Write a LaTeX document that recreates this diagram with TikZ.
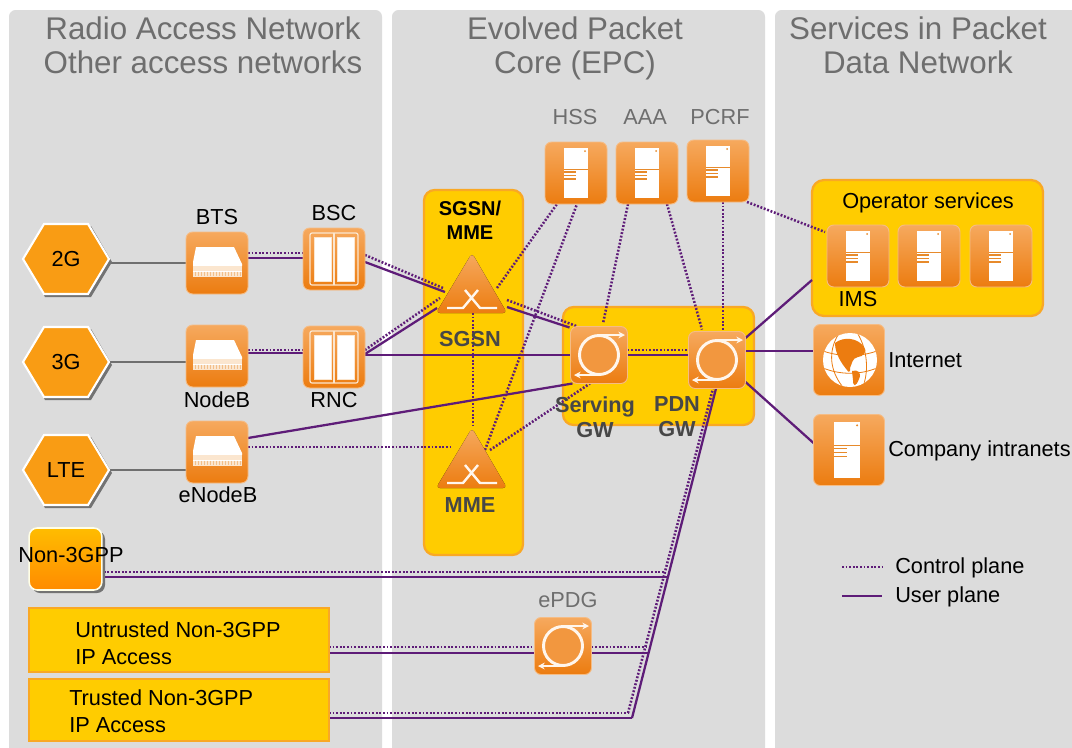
\documentclass[tikz,border=0pt]{standalone}
\usepackage{fontspec}
\setmainfont{Liberation Sans}
\usetikzlibrary{calc,arrows.meta}
\pgfdeclarelayer{panels}\pgfdeclarelayer{edges}
\pgfsetlayers{panels,edges,main}
\definecolor{panel}{HTML}{DCDCDC}
\definecolor{amber}{HTML}{FFCC00}
\definecolor{amberedge}{HTML}{F9A825}
\definecolor{plane}{HTML}{5E1C78}
\definecolor{boxtop}{HTML}{F6A95E}
\definecolor{boxbot}{HTML}{EC7C10}
\definecolor{boxedge}{HTML}{F5BC85}
\definecolor{hexfill}{HTML}{F99C14}
\definecolor{headgrey}{HTML}{6E6E6E}
\definecolor{rule}{HTML}{6F6F6F}
\definecolor{cream}{HTML}{FBE6CF}
\definecolor{strip}{HTML}{E78A2B}
\tikzset{
 x=.75pt,y=-.75pt,
 txt/.style={inner sep=0pt,font=\fontsize{16.3}{20}\selectfont,text=black,align=center},
 lefttxt/.style={txt,anchor=west,align=left},
 head/.style={inner sep=0pt,font=\fontsize{23.5}{25.5}\selectfont,text=headgrey,align=center},
 greytxt/.style={txt,text=headgrey},
 boldtxt/.style={txt,font=\fontsize{16.3}{18.5}\selectfont\bfseries,text=black!72},
 iconbox/.style={draw=boxedge,line width=.7pt,rounded corners=5pt,top color=boxtop,bottom color=boxbot,minimum size=#1*.75pt,inner sep=0pt,outer sep=0pt},
 amberbox/.style={draw=amberedge,line width=1.7pt,fill=amber,inner sep=0pt,outer sep=0pt},
 hexlabel/.style={txt,minimum width=64.5pt,minimum height=52.5pt},
 ctrl/.style={draw=plane,line width=1.9pt,dash pattern=on 1.4pt off 1.3pt},
 user/.style={draw=plane,line width=1.7pt},
 access/.style={draw=rule,line width=1.4pt},
 icon/.style={fill=white,draw=none},
}
\newcommand\hexagon[4]{% name x y text
 \begin{scope}[shift={(#2,#3)}]
 \fill[black!55] (-41,3)--(-21,-33)--(25,-33)--(46,3)--(25,38)--(-21,38)--cycle;
 \filldraw[fill=hexfill,draw=white,line width=1.6pt] (-43,0)--(-22,-35)--(22,-35)--(43,0)--(22,35)--(-22,35)--cycle;
 \end{scope}
 \node[hexlabel] (#1) at (#2,#3) {#4};}
\newcommand\serverglyph{%
 \fill[icon] (-12,-25) rectangle (12,25);
 \draw[strip,line width=.7pt] (-12,-4)--(12,-4);
 \draw[strip,line width=.9pt] (-12,-1)--(0,-1) (-12,2.5)--(0,2.5) (-12,6)--(0,6);
 \fill[strip] (9,-22) circle (1);}
\newcommand\serverbox[3]{%
 \node[iconbox=62] (#1) at (#2,#3) {};
 \begin{scope}[shift={(#2,#3)}]\serverglyph\end{scope}}
\newcommand\bladebox[3]{%
 \node[iconbox=62] (#1) at (#2,#3) {};
 \begin{scope}[shift={(#2,#3)}]
 \fill[white] (-21,-16)--(17,-16)--(25,1)--(25,3)--(-24,3)--(-24,-1)--cycle;
 \fill[cream] (-24,3) rectangle (25,14);
 \draw[white,line width=.5pt] (-24,8) -- (25,8);
 \foreach \h in {-22,-19,...,23} \draw[strip!55,line width=.25pt] (\h,8.5)--(\h,13);
 \end{scope}}
\newcommand\rackbox[3]{%
 \node[iconbox=62] (#1) at (#2,#3) {};
 \begin{scope}[shift={(#2,#3)}]
 \draw[cream,line width=.9pt,rounded corners=1.5pt] (-24,-26) rectangle (24,26);
 \draw[cream,line width=.9pt] (0,-26)--(0,26);
 \filldraw[fill=white,draw=cream,line width=.6pt] (-20,-22) rectangle (-3,22) (3,-22) rectangle (20,22);
 \end{scope}}
\newcommand\gwglyph{%
 \fill[boxtop!60!boxbot] (0,0) circle (19);
 \draw[white!93!orange,line width=2.2pt] (0,0) circle (19.5);
 \draw[white!93!orange,line width=1.5pt,-{Stealth[length=5pt,width=5pt]}] (0,-20)--(26,-20);
 \draw[white!93!orange,line width=1.5pt,-{Stealth[length=5pt,width=5pt]}] (0,20)--(-25,20);}
\newcommand\gwbox[3]{%
 \node[iconbox=57] (#1) at (#2,#3) {};
 \begin{scope}[shift={(#2,#3)}]\gwglyph\end{scope}}
\newcommand\routerglyph[3]{% name apexx apexy
 \filldraw[draw=none,top color=boxtop,bottom color=boxbot,rounded corners=3pt] (#2,#3)--(#2+35,#3+60)--(#2-36,#3+60)--cycle;
 \node[inner sep=0pt,minimum width=52.5pt,minimum height=45pt] (#1) at (#2,#3+30) {};
 \begin{scope}[shift={(#2,#3)}]
 \draw[white!93!orange,line width=1.8pt] (-25,55)--(-9,55)--(6,37) (-7,37)--(8,55)--(25,55);
 \end{scope}}
\begin{document}
\begin{tikzpicture}
\useasboundingbox (0,0) rectangle (1072,747);
\clip (0,0) rectangle (1072,747);

\begin{pgfonlayer}{panels}
 \fill[white] (0,0) rectangle (1072,747);
 \fill[panel,rounded corners=5pt] (9,10) rectangle (382,770);
 \fill[panel,rounded corners=5pt] (392,10) rectangle (765,770);
 \fill[panel,rounded corners=5pt] (775,10) rectangle (1090,770);
 \draw[amberbox,rounded corners=8pt] (424,190) rectangle (523,555);
 \draw[amberbox,rounded corners=8pt] (563,307) rectangle (754,425);
 \draw[amberbox,rounded corners=9pt] (812,180) rectangle (1043,316);
\end{pgfonlayer}

% headings
\node[head] (h1) at (203,45) {Radio Access Network\\Other access networks};
\node[head] (h2) at (575,48) {Evolved Packet\\Core (EPC)};
\node[head] (h3) at (918,45) {Services in Packet\\Data Network};

% access technologies
\hexagon{twog}{66}{259}{2G}
\hexagon{threeg}{66}{362}{3G}
\hexagon{lte}{66}{470}{LTE}

\bladebox{bts}{217}{263}
\bladebox{nodeb}{217}{356}
\bladebox{enodeb}{217}{452}
\rackbox{bsc}{334}{259}
\rackbox{rnc}{334}{357}

\node[txt] (btsl) at (217,217) {BTS};
\node[txt] (bscl) at (334,213) {BSC};
\node[txt] (nodebl) at (217,400) {NodeB};
\node[txt] (rncl) at (334,400) {RNC};
\node[txt] (enodebl) at (218,495) {eNodeB};

% SGSN / MME
\node[txt,font=\fontsize{15}{18}\selectfont\bfseries] (smt) at (470,220) {SGSN/\\MME};
\routerglyph{sgsn}{472}{253}
\routerglyph{mme}{472}{428}
\node[boldtxt] (sgsnl) at (470,339) {SGSN};
\node[boldtxt] (mmel) at (470,505) {MME};

% subscriber servers
\node[greytxt] (hssl) at (575,117) {HSS};
\node[greytxt] (aaal) at (645,117) {AAA};
\node[greytxt] (pcrfl) at (720,117) {PCRF};
\serverbox{hss}{576}{173}
\serverbox{aaa}{647}{173}
\serverbox{pcrf}{718}{171}

% gateways
\gwbox{sgw}{599}{355}
\gwbox{pgw}{717}{360}
\node[boldtxt,font=\fontsize{16.3}{18.75}\selectfont\bfseries] (sgwl) at (595,417) {Serving\\GW};
\node[boldtxt,font=\fontsize{16.3}{18.75}\selectfont\bfseries] (pgwl) at (677,417) {PDN\\GW};

% operator services
\node[txt] (opl) at (928,203) {Operator services};
\serverbox{ims}{858}{256}
\serverbox{opb}{929}{256}
\serverbox{opc}{1001}{256}
\node[txt] (imsl) at (858,299) {IMS};

% internet
\node[iconbox=71] (inet) at (849,360) {};
\begin{scope}[shift={(850,360)}]
 \fill[white] (0,0) circle (27);
 \begin{scope}
 \clip (0,0) circle (27);
 \fill[boxbot] (-15,-17) .. controls (-6,-24) and (8,-22) .. (14,-13) .. controls (18,-9) and (13,-3) .. (8,-3) .. controls (2,-2) and (2,4) .. (0,8) .. controls (1,12) and (-2,13) .. (-3,10) .. controls (-8,4) and (-15,-6) .. cycle;
 \fill[boxbot] (2,11) .. controls (8,9) and (12,13) .. (9,19) .. controls (6,27) and (3,27) .. (3,20) -- cycle;
 \draw[boxbot,line width=.6pt] (-27,-9) .. controls (-10,-3) and (10,-3) .. (27,-9);
 \draw[boxbot,line width=.6pt] (-27,8) .. controls (-10,15) and (10,15) .. (27,8);
 \draw[boxbot,line width=.6pt] (-12,-25) .. controls (-22,-8) and (-20,10) .. (-8,26);
 \draw[boxbot,line width=.6pt] (8,-26) .. controls (18,-8) and (18,10) .. (14,24);
 \end{scope}
\end{scope}
\node[lefttxt] (inetl) at (888,360) {Internet};

% company intranets
\node[iconbox=71] (corp) at (849,450) {};
\begin{scope}[shift={(847,450)},scale=1.12]\serverglyph\end{scope}
\node[lefttxt] (corpl) at (888,451) {Company intranets};

% other access
\fill[black!55,rounded corners=6pt] (32,531) rectangle (105,593);
\node[draw=white!90!yellow,line width=1.2pt,top color=amber!80!orange,bottom color=orange!85!amber,rounded corners=6pt,minimum width=54.5pt,minimum height=46.5pt,inner sep=0pt,outer sep=0pt] (non) at (65.5,559) {};
\node[txt] (nonl) at (71,555) {Non-3GPP};
\node[amberbox,minimum width=225pt,minimum height=48pt] (untr) at (179,640) {};
\node[txt,lefttxt] (untrl) at (75,643) {Untrusted Non-3GPP\\IP Access};
\node[amberbox,minimum width=225pt,minimum height=47pt] (trus) at (179,710) {};
\node[txt,lefttxt] (trusl) at (69,711) {Trusted Non-3GPP\\IP Access};
\gwbox{epdg}{563}{646}
\node[greytxt] (epdgl) at (568,600) {ePDG};

% legend
\coordinate (lc1) at (842,567);
\coordinate (lc2) at (885,567);
\coordinate (lu1) at (842,596);
\coordinate (lu2) at (882,596);
\node[lefttxt] (lcl) at (895,568) {Control plane};
\node[lefttxt] (lul) at (895,597) {User plane};

% junctions on the PDN GW riser
\coordinate (ctop) at (665,572);
\coordinate (utop) at (667,577);
\coordinate (ecu) at (647,647);
\coordinate (eus) at (649,653);
\coordinate (tcb) at (628,713);
\coordinate (tub) at (632,718);

\begin{pgfonlayer}{edges}
 % access links
 \draw[access] (twog.east |- bts.west) -- (bts.west);
 \draw[access] (threeg.east) -- (threeg.east -| nodeb.west);
 \draw[access] (lte.east) -- (lte.east -| enodeb.west);
 % BTS-BSC, NodeB-RNC
 \draw[ctrl] ($(bts.east)+(0,-10)$) -- ($(bsc.west)+(0,-6)$);
 \draw[user] ($(bts.east)+(0,-5)$) -- ($(bsc.west)+(0,-1)$);
 \draw[ctrl] ($(nodeb.east)+(0,-6)$) -- ($(rnc.west)+(0,-7)$);
 \draw[user] ($(nodeb.east)+(0,-3)$) -- ($(rnc.west)+(0,-4)$);
 % to SGSN
 \draw[ctrl] ($(bsc.east)+(0,-4)$) -- ($(sgsn.center)+(-29,5)$);
 \draw[user] ($(bsc.east)+(0,3)$) -- ($(sgsn.center)+(-27,9)$);
 \draw[ctrl] ($(rnc.east)+(0,-7)$) -- ($(sgsn.center)+(-32,15)$);
 \draw[user] ($(rnc.east)+(0,-3)$) -- ($(sgsn.center)+(-35,25)$);
 % to SGW
 \draw[user] ($(rnc.east)+(0,-2)$) -- (sgw.west);
 \draw[user] ($(enodeb.east)+(0,-14)$) -- ($(sgw.south west)+(2,0)$);
 \draw[ctrl] ($(enodeb.east)+(0,-5)$) -- ($(mme.center)+(-22,-11)$);
 \draw[ctrl] ($(sgsn.center)+(35,17)$) -- ($(sgw.north west)+(7,0)$);
 \draw[user] ($(sgsn.center)+(35,24)$) -- ($(sgw.north west)+(-1,1)$);
 % vertical control
 \draw[ctrl] ($(sgsn.center)+(1,30)$) -- ($(mme.center)+(1,-30)$);
 \draw[ctrl] ($(sgsn.center)+(25,5)$) -- ($(hss.south west)+(12,0)$);
 \draw[ctrl] ($(mme.center)+(13,-8)$) -- ($(hss.south)+(1,0)$);
 \draw[ctrl] ($(mme.center)+(18,-8)$) -- ($(sgw.south)+(-9,0)$);
 \draw[ctrl] ($(aaa.south)+(-19,0)$) -- ($(sgw.north)+(4,-3)$);
 \draw[ctrl] ($(aaa.south)+(20,0)$) -- ($(pgw.north)+(-15,-2)$);
 \draw[ctrl] ($(pcrf.south)+(5,0)$) -- ($(pgw.north)+(6,-2)$);
 \draw[ctrl] ($(pcrf.south east)+(-2,0)$) -- ($(ims.north west)+(-2,7)$);
 % core
 \draw[ctrl] ($(sgw.east)+(0,-5)$) -- ($(pgw.west)+(0,-10)$);
 \draw[user] ($(sgw.east)+(0,0)$) -- ($(pgw.west)+(0,-5)$);
 % PDN GW to services
 \draw[user] ($(pgw.east)+(0,-22)$) -- ($(ims.south west)+(-15,-7)$);
 \draw[user] ($(pgw.east)+(0,-9)$) -- ($(inet.west)+(0,-9)$);
 \draw[user] ($(pgw.east)+(0,22)$) -- ($(corp.west)+(0,-7)$);
 % risers
 \draw[ctrl] (tcb) -- ($(pgw.south)+(-4,0)$);
 \draw[user] (tub) -- ($(pgw.south)+(-1,0)$);
 \draw[ctrl] ($(non.east)+(2,13)$) -- (ctop);
 \draw[user] ($(non.east)+(2,18)$) -- (utop);
 \draw[ctrl] ($(untr.east)+(0,7)$) -- ($(epdg.west)+(0,1)$);
 \draw[user] ($(untr.east)+(0,13)$) -- ($(epdg.west)+(0,7)$);
 \draw[ctrl] ($(epdg.east)+(0,1)$) -- (ecu);
 \draw[user] ($(epdg.east)+(0,7)$) -- (eus);
 \draw[ctrl] ($(trus.east)+(0,3)$) -- (tcb);
 \draw[user] ($(trus.east)+(0,8)$) -- (tub);
 % legend
 \draw[ctrl] (lc1) -- (lc2);
 \draw[user] (lu1) -- (lu2);
\end{pgfonlayer}
\end{tikzpicture}
\end{document}
